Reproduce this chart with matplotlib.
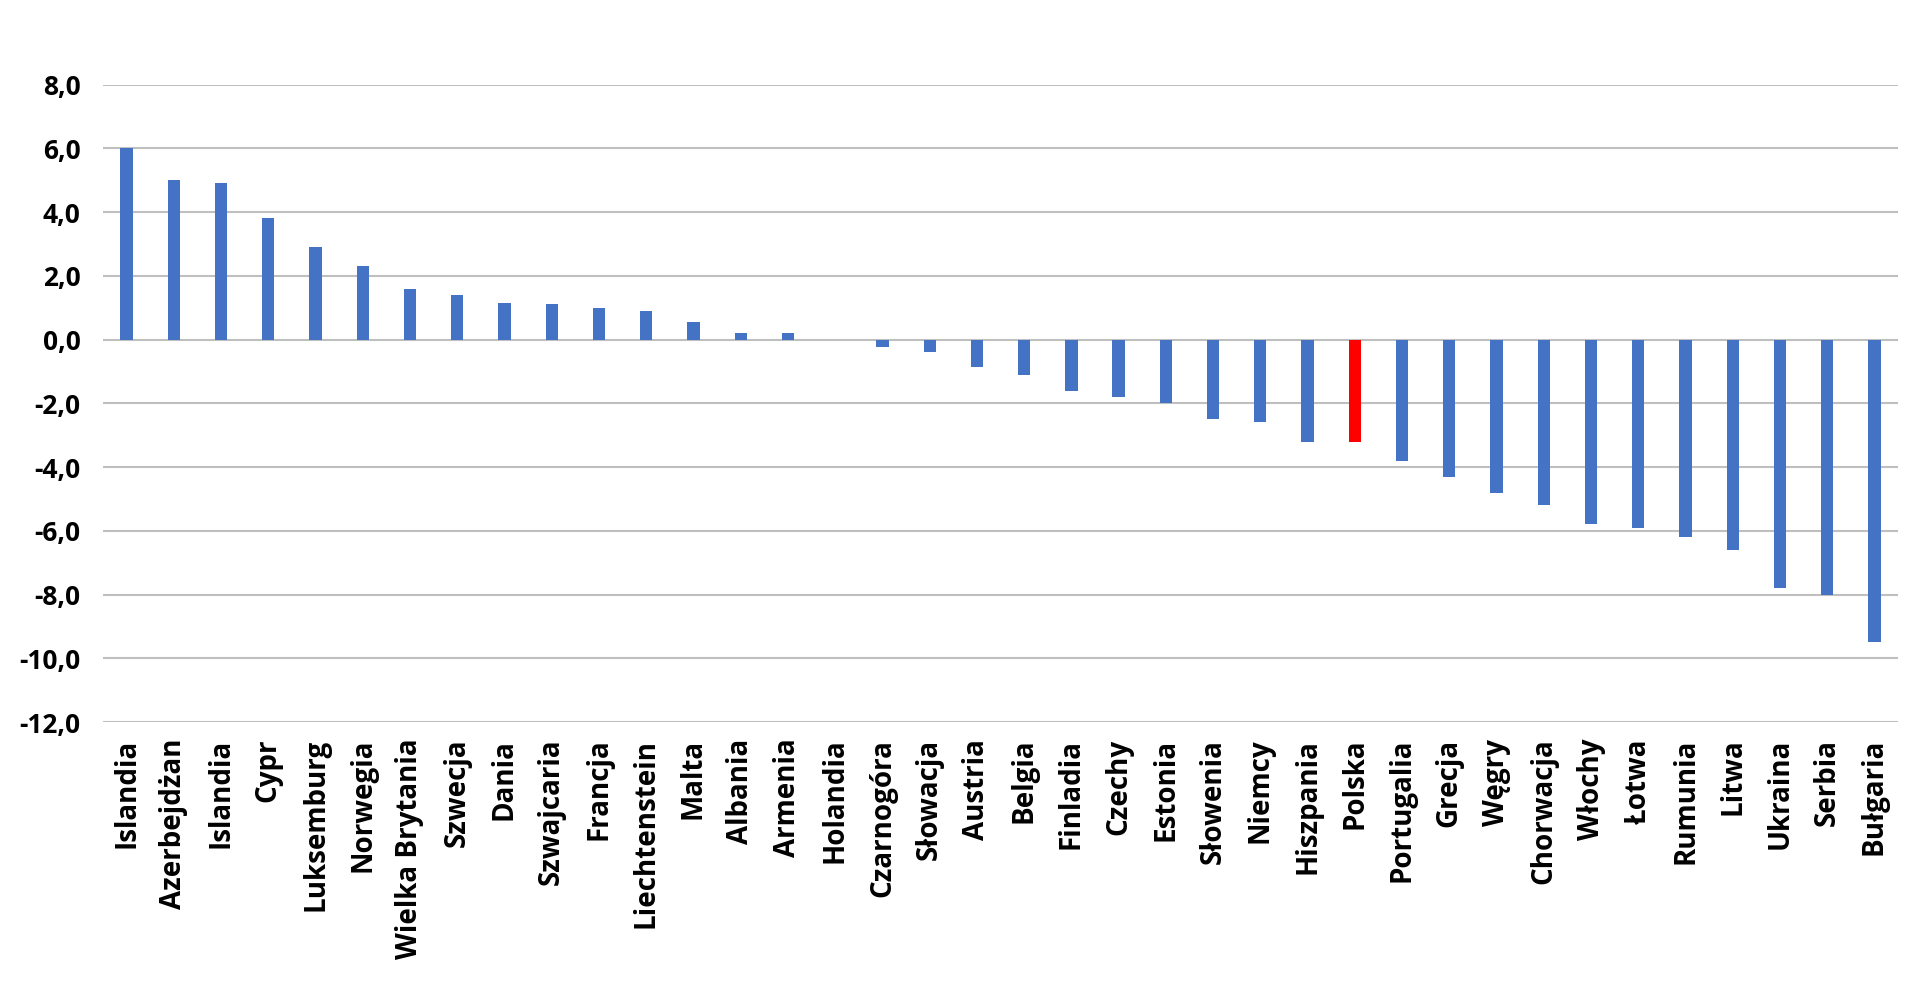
import numpy as np
import matplotlib
matplotlib.use("Agg")
import matplotlib.pyplot as plt

params = {
    "font.family": ["Open Sans", "DejaVu Sans"],
    "font.weight": "bold",
    "font.size": 18,
}
matplotlib.rcParams.update(params)

countries = ["Islandia", "Azerbejdżan", "Islandia", "Cypr", "Luksemburg", "Norwegia",
             "Wielka Brytania", "Szwecja", "Dania", "Szwajcaria", "Francja",
             "Liechtenstein", "Malta", "Albania", "Armenia", "Holandia", "Czarnogóra",
             "Słowacja", "Austria", "Belgia", "Finladia", "Czechy", "Estonia",
             "Słowenia", "Niemcy", "Hiszpania", "Polska", "Portugalia", "Grecja",
             "Węgry", "Chorwacja", "Włochy", "Łotwa", "Rumunia", "Litwa", "Ukraina",
             "Serbia", "Bułgaria"]
values = [6.0, 5.0, 4.9, 3.8, 2.9, 2.3, 1.6, 1.4, 1.15, 1.1, 1.0, 0.9, 0.55, 0.2, 0.2,
          0.0, -0.25, -0.4, -0.85, -1.1, -1.6, -1.8, -2.0, -2.5, -2.6, -3.2, -3.2,
          -3.8, -4.3, -4.8, -5.2, -5.8, -5.9, -6.2, -6.6, -7.8, -8.0, -9.5]
highlight = "Polska"
yticks = [8, 6, 4, 2, 0, -2, -4, -6, -8, -10, -12]

colors = ["#FF0000" if c == highlight else "#4472C4" for c in countries]
idx = np.arange(len(countries))

fig = plt.figure(figsize=(19.2, 10.06), dpi=100)
ax = fig.add_axes([0.0536, 0.2823, 0.935, 0.6337])

ax.bar(idx, values, width=0.26, color=colors, zorder=3)

ax.set_xlim(-0.5, len(countries) - 0.5)
ax.set_ylim(-12, 8)
ax.set_yticks(yticks)
ax.set_yticklabels([f"{v:.1f}".replace(".", ",") for v in yticks])
ax.set_xticks(idx)
ax.set_xticklabels(countries, rotation=90)

ax.grid(axis="y", color="#BFBFBF", linewidth=1.5, zorder=0)
for s in ax.spines.values():
    s.set_visible(False)
ax.tick_params(axis="both", length=0)
ax.tick_params(axis="y", pad=16, labelsize=19)
ax.tick_params(axis="x", pad=12, labelsize=20)

fig.savefig("out.png", dpi=100, facecolor="white")
